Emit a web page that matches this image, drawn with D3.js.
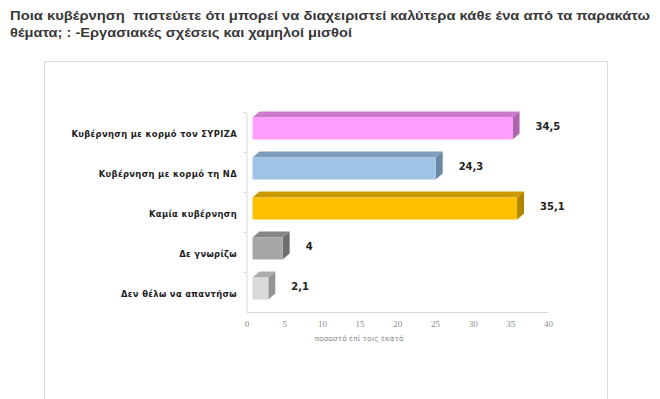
<!DOCTYPE html>
<html>
<head>
<meta charset="utf-8">
<script src="https://cdn.jsdelivr.net/npm/d3@7/dist/d3.min.js"></script>
<style>
  body { margin: 0; background: #fff; }
  svg { display: block; }
</style>
</head>
<body>
<svg id="chart" width="660" height="399"></svg>
<script>
const titleLines = [
  "Ποια κυβέρνηση  πιστεύετε ότι μπορεί να διαχειριστεί καλύτερα κάθε ένα από τα παρακάτω",
  "θέματα; : -Εργασιακές σχέσεις και χαμηλοί μισθοί"
];
const categories = [
  "Κυβέρνηση με κορμό τον ΣΥΡΙΖΑ",
  "Κυβέρνηση με κορμό τη ΝΔ",
  "Καμία κυβέρνηση",
  "Δε γνωρίζω",
  "Δεν θέλω να απαντήσω"
];
const values = [34.5, 24.3, 35.1, 4, 2.1];
const valueLabels = ["34,5", "24,3", "35,1", "4", "2,1"];
const xTicks = [0, 5, 10, 15, 20, 25, 30, 35, 40];
const xTitle = "ποσοστό επί τοις εκατό";

// front, top, side colour for each bar
const barColors = [
  ["#ff9cff", "#cc7acc", "#b064b0"],
  ["#9fc4e8", "#7f9dbb", "#6a87a5"],
  ["#ffc000", "#cc9a00", "#b08600"],
  ["#a6a6a6", "#878787", "#6e6e6e"],
  ["#d9d9d9", "#ababab", "#959595"]
];

const svg = d3.select("#chart");

// outer frame of the chart object
svg.append("rect")
  .attr("x", 44.5).attr("y", 61.5)
  .attr("width", 563).attr("height", 345)
  .attr("fill", "none")
  .attr("stroke", "#dcdcdc");

// title (keep the double space)
svg.selectAll(".title")
  .data(titleLines)
  .enter()
  .append("text")
  .attr("class", "title")
  .attr("x", 10)
  .attr("y", (d, i) => 20 + i * 17)
  .attr("textLength", (d, i) => i === 0 ? 640 : 342)
  .attr("lengthAdjust", "spacingAndGlyphs")
  .style("white-space", "pre")
  .style("font-family", "'Liberation Sans', Arial, sans-serif")
  .style("font-weight", "bold")
  .style("font-size", "13px")
  .style("fill", "#383838")
  .text(d => d);

var x = d3.scaleLinear().domain([0, 40]).range([246.5, 548]);
var y = d3.scaleBand().domain(categories).range([112, 312]);

// 3d depth offsets
const dx = 7, dy = -6, shift = 6, barH = 22;

// axes
var xAxis = d3.axisBottom(x).tickValues(xTicks).tickSize(0).tickPadding(9);
var gx = svg.append("g")
  .attr("transform", "translate(0,312)")
  .call(xAxis);
gx.select(".domain").attr("stroke", "#d9d9d9");
gx.selectAll("text")
  .style("font-family", "'Liberation Serif', serif")
  .style("font-size", "9px")
  .style("fill", "#8c8c8c");

var yAxis = d3.axisLeft(y).tickSize(0).tickFormat("");
var gy = svg.append("g")
  .attr("transform", "translate(246.5,0)")
  .call(yAxis);
gy.select(".domain").attr("stroke", "#d9d9d9");
// small ticks between categories
gy.selectAll(".sep")
  .data(d3.range(categories.length))
  .enter()
  .append("line")
  .attr("x1", -3).attr("x2", 0)
  .attr("y1", i => 112 + i * y.step() + 0.5)
  .attr("y2", i => 112 + i * y.step() + 0.5)
  .attr("stroke", "#d9d9d9");

svg.append("text")
  .attr("x", 359)
  .attr("y", 341)
  .attr("text-anchor", "middle")
  .style("font-family", "'DejaVu Sans', Verdana, sans-serif")
  .style("font-size", "7.5px")
  .style("fill", "#8c8c8c")
  .text(xTitle);

// category labels
svg.selectAll(".cat")
  .data(categories)
  .enter()
  .append("text")
  .attr("class", "cat")
  .attr("x", 237)
  .attr("y", d => y(d) + y.bandwidth() / 2 + 5)
  .attr("text-anchor", "end")
  .style("font-family", "'DejaVu Sans', Verdana, sans-serif")
  .style("font-weight", "bold")
  .style("font-size", "8.4px")
  .style("letter-spacing", "0.35px")
  .style("fill", "#222")
  .text(d => d);

// bars
var bars = svg.selectAll(".bar")
  .data(categories.map((c, i) => ({ c: c, v: values[i], lab: valueLabels[i], col: barColors[i] })))
  .enter()
  .append("g")
  .attr("class", "bar");

var pts = a => a.map(p => p.join(",")).join(" ");

bars.append("polygon")
  .attr("points", d => {
    let x0 = x(0) + shift, x1 = x(d.v) + shift, y0 = y(d.c) + 5.5;
    return pts([[x0, y0], [x0 + dx, y0 + dy], [x1 + dx, y0 + dy], [x1, y0]]);
  })
  .attr("fill", d => d.col[1]);

bars.append("polygon")
  .attr("points", d => {
    let x1 = x(d.v) + shift, y0 = y(d.c) + 5.5, y1 = y0 + barH;
    return pts([[x1, y0], [x1 + dx, y0 + dy], [x1 + dx, y1 + dy], [x1, y1]]);
  })
  .attr("fill", d => d.col[2]);

bars.append("rect")
  .attr("x", x(0) + shift)
  .attr("y", d => y(d.c) + 5.5)
  .attr("width", d => x(d.v) - x(0))
  .attr("height", barH)
  .attr("fill", d => d.col[0]);

bars.append("text")
  .attr("x", d => x(d.v) + shift + 23)
  .attr("y", d => y(d.c) + 5.5 + barH / 2 + 1)
  .style("font-family", "'DejaVu Sans', Verdana, sans-serif")
  .style("font-weight", "bold")
  .style("font-size", "10px")
  .style("fill", "#222")
  .text(d => d.lab);
</script>
</body>
</html>
